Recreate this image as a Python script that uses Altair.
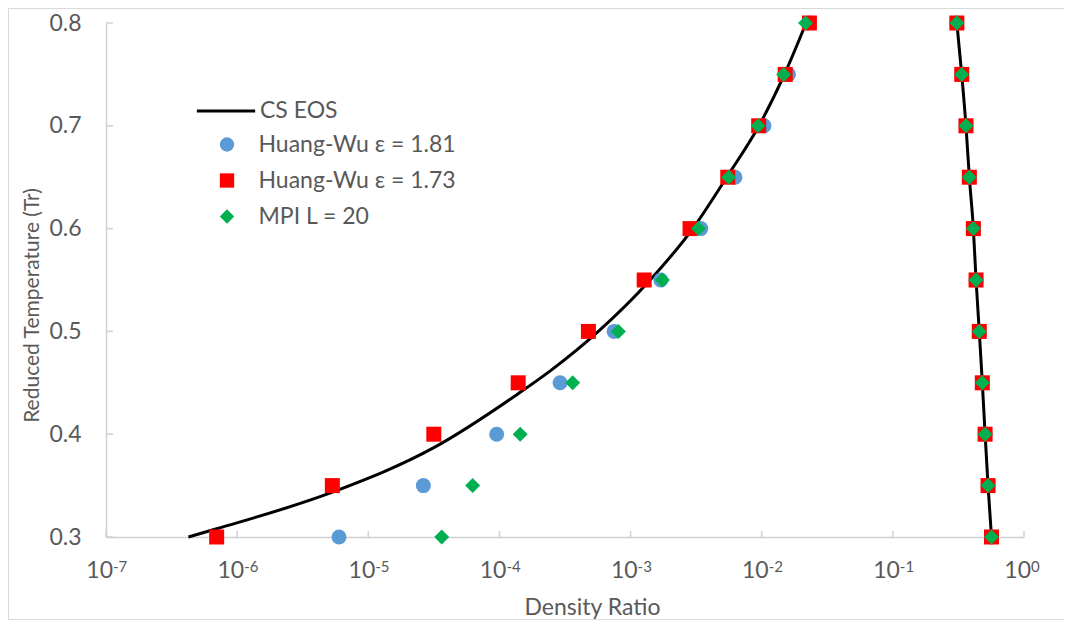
import altair as alt
import pandas as pd

# ---------------- data ----------------
T_levels = [0.30, 0.35, 0.40, 0.45, 0.50, 0.55, 0.60, 0.65, 0.70, 0.75, 0.80]

# vapour branch (density ratio)
hw181_vapor = [5.98e-6, 2.63e-5, 9.53e-5, 2.90e-4, 7.48e-4, 1.70e-3, 3.43e-3, 6.25e-3, 1.04e-2, 1.60e-2, 2.30e-2]
hw173_vapor = [6.98e-7, 5.32e-6, 3.16e-5, 1.39e-4, 4.77e-4, 1.27e-3, 2.84e-3, 5.51e-3, 9.48e-3, 1.51e-2, 2.31e-2]
mpi_vapor = [3.63e-5, 6.25e-5, 1.44e-4, 3.62e-4, 8.07e-4, 1.75e-3, 3.29e-3, 5.60e-3, 9.38e-3, 1.47e-2, 2.16e-2]

# liquid branch (density ratio)
hw181_liquid = [0.565, 0.532, 0.505, 0.481, 0.456, 0.431, 0.411, 0.383, 0.361, 0.335, 0.3076]
hw173_liquid = [0.565, 0.532, 0.505, 0.481, 0.456, 0.431, 0.411, 0.383, 0.361, 0.335, 0.3076]
mpi_liquid = [0.565, 0.532, 0.505, 0.481, 0.456, 0.431, 0.411, 0.383, 0.361, 0.335, 0.3076]

# CS EOS curve
cs_vapor_T = [0.300, 0.308, 0.3436, 0.3869, 0.4394, 0.4621, 0.50, 0.55, 0.60, 0.65, 0.70, 0.75, 0.80]
cs_vapor_rho = [4.25e-7, 6.98e-7, 5.32e-6, 3.16e-5, 1.39e-4, 2.47e-4, 5.68e-4, 1.41e-3, 2.98e-3, 5.41e-3, 9.53e-3, 1.49e-2, 2.18e-2]
cs_liquid_T = [0.30, 0.35, 0.40, 0.45, 0.50, 0.55, 0.60, 0.65, 0.70, 0.75, 0.80]
cs_liquid_rho = [0.565, 0.532, 0.505, 0.481, 0.456, 0.431, 0.411, 0.383, 0.361, 0.335, 0.3076]

series_names = ["Huang-Wu ε = 1.81", "Huang-Wu ε = 1.73", "MPI L = 20"]
series_colors = ["#5B9BD5", "#FF0000", "#00B050"]
series_shapes = ["circle", "square", "diamond"]
line_name = "CS EOS"

x_tick_exps = ["-7", "-6", "-5", "-4", "-3", "-2", "-1", "0"]
y_ticks = [0.3, 0.4, 0.5, 0.6, 0.7, 0.8]

# ---------------- tables ----------------
rows = []
for name, vap, liq in zip(series_names,
                          [hw181_vapor, hw173_vapor, mpi_vapor],
                          [hw181_liquid, hw173_liquid, mpi_liquid]):
    for t, v in zip(T_levels, vap):
        rows.append({"T": t, "rho": v, "series": name})
    for t, v in zip(T_levels, liq):
        rows.append({"T": t, "rho": v, "series": name})
points_df = pd.DataFrame(rows)

line_rows = []
for t, v in zip(cs_vapor_T, cs_vapor_rho):
    line_rows.append({"T": t, "rho": v, "series": line_name, "branch": "vapor"})
for t, v in zip(cs_liquid_T, cs_liquid_rho):
    line_rows.append({"T": t, "rho": v, "series": line_name, "branch": "liquid"})
line_df = pd.DataFrame(line_rows)

xtick_df = pd.DataFrame({"v": [10.0 ** int(e) for e in x_tick_exps],
                         "base": ["10"] * len(x_tick_exps),
                         "exp": x_tick_exps})
ytick_df = pd.DataFrame({"v": y_ticks})

# ---------------- styling ----------------
FONT = "Lato"
GRAY = "#595959"
AXIS_GRAY = "#D0D0D0"
W, H = 918, 514
FS = 23

x_scale = alt.Scale(type="log", domain=[1e-7, 1], nice=False)
y_scale = alt.Scale(domain=[0.3, 0.8], nice=False, zero=False)

x_axis = alt.Axis(title="Density Ratio", labels=False, ticks=False, grid=False,
                  domainColor=AXIS_GRAY, domainWidth=1.5,
                  titleFont=FONT, titleFontSize=FS, titleColor=GRAY, titleFontWeight="normal",
                  titleX=486, titleY=70, titleBaseline="middle", titleAlign="center")
y_axis = alt.Axis(title="Reduced Temperature (Tr)", values=y_ticks, format=".1f",
                  ticks=False, grid=False, domainColor=AXIS_GRAY, domainWidth=1.5,
                  labelFont=FONT, labelFontSize=FS, labelColor=GRAY, labelPadding=25,
                  titleFont=FONT, titleFontSize=21, titleColor=GRAY, titleFontWeight="normal",
                  titleX=-64, titleY=282)

X = alt.X("rho:Q", scale=x_scale, axis=x_axis)
Y = alt.Y("T:Q", scale=y_scale, axis=y_axis)

line_legend = alt.Legend(title=None, orient="none", legendX=89, legendY=57,
                         symbolType="stroke", symbolSize=3400, symbolStrokeWidth=3,
                         symbolStrokeColor="black", labelLimit=0,
                         labelFont=FONT, labelFontSize=FS, labelColor=GRAY, labelOffset=3, padding=0)
pt_legend = alt.Legend(title=None, orient="none", legendX=109.5, legendY=110,
                       symbolSize=205, symbolStrokeWidth=0, labelLimit=0,
                       labelFont=FONT, labelFontSize=FS, labelColor=GRAY, labelOffset=20,
                       rowPadding=12, padding=0)

frame = alt.Chart(pd.DataFrame({"a": [0]})).mark_rect(
    fill="transparent", stroke="#D9D9D9", strokeWidth=1
).encode(x=alt.value(-97.5), x2=alt.value(958.5), y=alt.value(-14.5), y2=alt.value(596.5))

xticks = alt.Chart(xtick_df).mark_rule(color=AXIS_GRAY, strokeWidth=1.5).encode(
    x=alt.X("v:Q", scale=x_scale, axis=x_axis), y=alt.value(H - 6), y2=alt.value(H))
yticks = alt.Chart(ytick_df).mark_rule(color=AXIS_GRAY, strokeWidth=1.5).encode(
    y=alt.Y("v:Q", scale=y_scale, axis=y_axis), x=alt.value(0), x2=alt.value(7))

xlab_base = alt.Chart(xtick_df).mark_text(
    font=FONT, fontSize=FS, color=GRAY, align="right", baseline="alphabetic", dx=7
).encode(x=alt.X("v:Q", scale=x_scale, axis=x_axis), y=alt.value(H + 41), text="base:N")
xlab_exp = alt.Chart(xtick_df).mark_text(
    font=FONT, fontSize=15, color=GRAY, align="left", baseline="alphabetic", dx=7
).encode(x=alt.X("v:Q", scale=x_scale, axis=x_axis), y=alt.value(H + 35), text="exp:N")

line = alt.Chart(line_df).mark_line(strokeWidth=3, interpolate="monotone").encode(
    x=X, y=Y,
    color=alt.Color("series:N", scale=alt.Scale(domain=[line_name], range=["black"]), legend=line_legend),
    detail="branch:N",
)

pts = alt.Chart(points_df).mark_point(filled=True, size=225, opacity=1, strokeWidth=0).encode(
    x=X, y=Y,
    color=alt.Color("series:N", scale=alt.Scale(domain=series_names, range=series_colors), legend=pt_legend),
    shape=alt.Shape("series:N", scale=alt.Scale(domain=series_names, range=series_shapes), legend=pt_legend),
)

chart = alt.layer(frame, xticks, yticks, xlab_base, xlab_exp, line, pts).resolve_scale(
    color="independent", shape="independent"
).properties(
    width=W, height=H,
    autosize=alt.AutoSizeParams(type="none"),
    padding={"left": 98, "top": 15, "right": 40, "bottom": 83},
    background="white",
).configure_view(stroke=None)

chart.save("out.html", embed_options={"renderer": "svg", "actions": False})
